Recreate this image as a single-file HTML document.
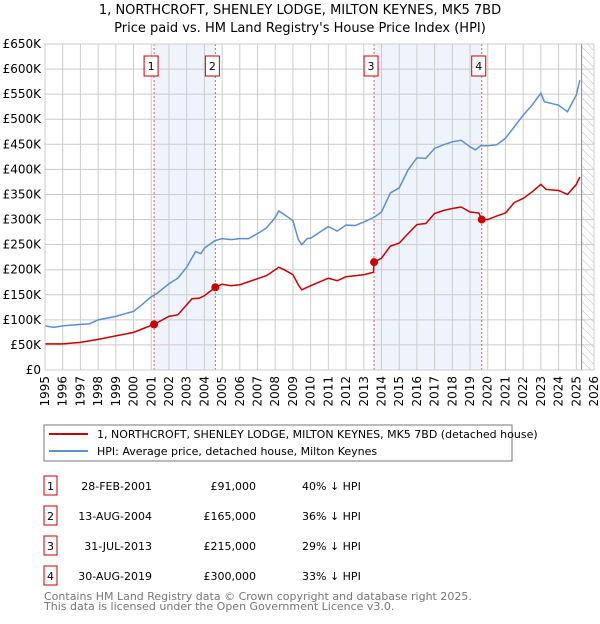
<!DOCTYPE html>
<html><head><meta charset="utf-8"><style>
body{margin:0;background:#fff;font-family:"DejaVu Sans","Liberation Sans",sans-serif}
svg text{font-family:"DejaVu Sans","Liberation Sans",sans-serif}
</style></head><body>
<svg id="c" width="600" height="620" xmlns="http://www.w3.org/2000/svg">
<defs><pattern id="hatch" width="6" height="6" patternUnits="userSpaceOnUse" patternTransform="rotate(-45)"><line x1="0" y1="0" x2="0" y2="6" stroke="#bbb" stroke-width="1"/></pattern></defs>
<text x="300" y="14" text-anchor="middle" font-size="13">1, NORTHCROFT, SHENLEY LODGE, MILTON KEYNES, MK5 7BD</text>
<text x="300" y="32" text-anchor="middle" font-size="13">Price paid vs. HM Land Registry's House Price Index (HPI)</text>
<g id="plot"></g>
<rect x="44" y="425" width="468" height="36" fill="#fff" stroke="#777"/>
<line x1="49" y1="434" x2="88" y2="434" stroke="#cc0000" stroke-width="2"/>
<text x="97" y="438" font-size="11">1, NORTHCROFT, SHENLEY LODGE, MILTON KEYNES, MK5 7BD (detached house)</text>
<line x1="49" y1="451" x2="88" y2="451" stroke="#5b8fd4" stroke-width="2"/>
<text x="97" y="455" font-size="11">HPI: Average price, detached house, Milton Keynes</text>
<g id="table"></g>
<text x="44" y="600" font-size="11" fill="#777">Contains HM Land Registry data © Crown copyright and database right 2025.</text>
<text x="44" y="610" font-size="11" fill="#777">This data is licensed under the Open Government Licence v3.0.</text>
</svg>
<script>
const hpiYears=[1995,1995.5,1996,1997,1997.5,1998,1999,1999.5,2000,2000.5,2001,2001.3,2002,2002.5,2003,2003.5,2003.8,2004,2004.6,2005,2005.5,2006,2006.5,2007,2007.5,2008,2008.2,2008.5,2009,2009.3,2009.5,2009.8,2010,2011,2011.5,2012,2012.5,2013,2013.6,2014,2014.5,2015,2015.5,2016,2016.5,2017,2017.5,2018,2018.5,2019,2019.3,2019.6,2020,2020.5,2021,2021.5,2022,2022.5,2023,2023.2,2024,2024.5,2025,2025.2];
const hpiValues=[88,85,88,91,92,100,107,112,117,131,146,152,172,183,205,236,232,243,258,262,260,262,262,272,283,304,317,310,298,260,250,262,263,286,277,289,288,295,305,315,353,363,399,423,422,442,449,455,458,445,439,447,447,449,462,485,508,528,552,535,528,515,548,578];
const propYears=[1995,1996,1997,1998,1999,2000,2000.5,2001.16,2002,2002.5,2003,2003.3,2003.7,2004,2004.62,2005,2005.5,2006,2007,2007.5,2008,2008.2,2008.5,2009,2009.3,2009.5,2010,2011,2011.5,2012,2013,2013.55,2013.58,2014,2014.5,2015,2015.5,2016,2016.5,2017,2017.5,2018,2018.5,2019,2019.5,2019.66,2020,2020.5,2021,2021.5,2022,2022.5,2023,2023.3,2024,2024.5,2025,2025.2];
const propValues=[52,52,55,61,68,75,82,91,107,110,130,142,143,148,165,171,168,170,182,188,200,205,200,190,170,160,168,183,178,186,190,195,215,223,247,253,272,290,292,312,318,322,325,315,313,300,300,307,313,334,342,355,370,360,358,350,370,385];
const saleYears=[2001.16,2004.62,2013.58,2019.66];
const saleValues=[91,165,215,300];
const saleLabels=["1","2","3","4"];
const saleDates=["28-FEB-2001","13-AUG-2004","31-JUL-2013","30-AUG-2019"];
const salePrices=["£91,000","£165,000","£215,000","£300,000"];
const saleDiffs=["40% ↓ HPI","36% ↓ HPI","29% ↓ HPI","33% ↓ HPI"];
const yTicks=[0,50,100,150,200,250,300,350,400,450,500,550,600,650];
const xTicks=[1995,1996,1997,1998,1999,2000,2001,2002,2003,2004,2005,2006,2007,2008,2009,2010,2011,2012,2013,2014,2015,2016,2017,2018,2019,2020,2021,2022,2023,2024,2025,2026];
const X0=45,X1=594,Y0=370,Y1=44;
const x=t=>X0+(t-1995)/(2026-1995)*(X1-X0);
const y=v=>Y0-v/650*(Y0-Y1);
const NS="http://www.w3.org/2000/svg";
const plot=document.getElementById('plot');
function mk(tag,attrs,parent,txt){const e=document.createElementNS(NS,tag);for(const k in attrs)e.setAttribute(k,attrs[k]);if(txt!=null)e.textContent=txt;(parent||plot).appendChild(e);return e;}
for(let i=0;i<saleYears.length;i+=2){
 const r=mk('rect',{x:x(saleYears[i]),y:Y1,width:x(saleYears[i+1])-x(saleYears[i]),height:Y0-Y1,fill:'#eef3fc'});
 
 
}
const hx=x(2025.3);
const hr=mk('rect',{x:hx,y:Y1,width:X1-hx,height:Y0-Y1,fill:'url(#hatch)'});


yTicks.forEach(v=>{
 const l=mk('line',{x1:X0,x2:X1,y1:y(v),y2:y(v),stroke:'#ccc'});
 
 
 const t=mk('text',{x:41,y:y(v)+4,'text-anchor':'end','font-size':'12'},plot,v===0?'£0':'£'+v+'K');
 
 
});
xTicks.forEach(t0=>{
 const l=mk('line',{x1:x(t0),x2:x(t0),y1:Y1,y2:Y0,stroke:'#ccc'});
 
 
 const t=mk('text',{x:0,y:0,'font-size':'12',transform:`translate(${x(t0)+4},${Y0+6}) rotate(-90)`,'text-anchor':'end'},plot,String(t0));
 
 
});
const hl=mk('line',{x1:hx,x2:hx,y1:Y1,y2:Y0,stroke:'#888'});


saleYears.forEach((s,i)=>{
 const l=mk('line',{x1:x(s),x2:x(s),y1:Y1,y2:Y0,stroke:'#e06060','stroke-dasharray':'2,2'});
 
 
 const b=mk('rect',{x:x(s)-10,y:56,width:14,height:20,fill:'#fff',stroke:'#cc0000'});
 
 
 const t=mk('text',{x:x(s)-3,y:70,'text-anchor':'middle','font-size':'11'},plot,saleLabels[i]);
 
 
});
const hp=mk('polyline',{points:hpiYears.map((t,i)=>x(t)+','+y(hpiValues[i])).join(' '),fill:'none',stroke:'#5b8fd4','stroke-width':'1.5'});


const pp=mk('polyline',{points:propYears.map((t,i)=>x(t)+','+y(propValues[i])).join(' '),fill:'none',stroke:'#cc0000','stroke-width':'1.5'});


saleYears.forEach((s,i)=>{
 const c=mk('circle',{cx:x(s),cy:y(saleValues[i]),r:4,fill:'#cc0000'});
 
 
});
const fr=mk('rect',{x:X0,y:Y1,width:X1-X0,height:Y0-Y1,fill:'none',stroke:'#ccc'});


const tb=document.getElementById('table');
saleLabels.forEach((lab,i)=>{
 const ry=476+i*30;
 const b=mk('rect',{x:44,y:ry,width:13,height:19,fill:'#fff',stroke:'#cc0000'},tb);
 
 
 const a=mk('text',{x:50.5,y:ry+14,'text-anchor':'middle','font-size':'11'},tb,lab);
 
 
 const d=mk('text',{x:152,y:ry+14,'text-anchor':'end','font-size':'11'},tb,saleDates[i]);
 
 
 const p=mk('text',{x:256,y:ry+14,'text-anchor':'end','font-size':'11'},tb,salePrices[i]);
 
 
 const h=mk('text',{x:302,y:ry+14,'font-size':'11'},tb,saleDiffs[i]);
 
 
});
</script>
</body></html>
